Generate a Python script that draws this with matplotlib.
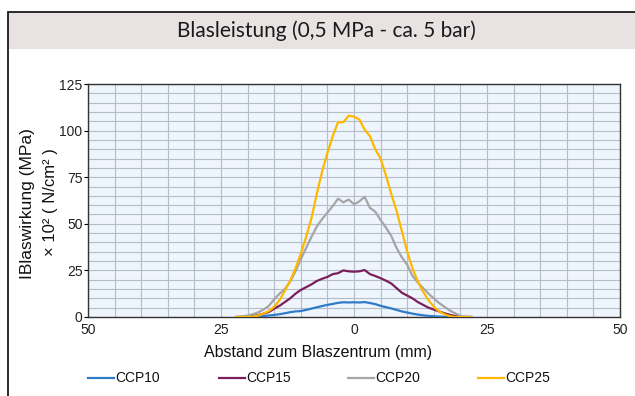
import matplotlib
matplotlib.use("Agg")
import matplotlib.pyplot as plt
from matplotlib.patches import Rectangle
from matplotlib.lines import Line2D
import numpy as np

# ---------------- data ----------------
x_mm = list(range(-22, 23))

ccp10 = [0, 0, 0, 0.1, 0.3, 0.5, 0.8, 1.1, 1.5, 2.0, 2.6, 3.0, 3.2, 3.8, 4.5, 5.2, 5.9, 6.5, 7.0,
         7.6, 7.9, 7.8, 7.9, 7.8, 8.0, 7.5, 6.9, 6.0, 5.3, 4.6, 3.8, 3.0, 2.4, 1.8, 1.3, 0.9, 0.6,
         0.4, 0.2, 0.1, 0, 0, 0, 0, 0]
ccp15 = [0, 0, 0.2, 0.5, 1.0, 1.8, 2.7, 4.5, 6.0, 8.0, 10.0, 12.5, 14.5, 16.0, 17.5, 19.3, 20.5,
         21.5, 23.0, 23.5, 25.0, 24.5, 24.3, 24.5, 25.2, 23.0, 22.0, 20.8, 19.5, 18.0, 15.5, 13.0,
         11.5, 10.0, 8.0, 6.5, 5.0, 4.0, 3.0, 2.0, 1.2, 0.5, 0.2, 0, 0]
ccp20 = [0, 0.3, 0.8, 1.5, 2.5, 4.0, 6.0, 9.5, 12.5, 15.0, 19.0, 24.5, 31.0, 37.0, 43.0, 48.5,
         52.5, 56.0, 59.5, 63.5, 61.5, 63.0, 60.5, 62.0, 64.5, 58.5, 56.5, 52.0, 48.0, 43.5, 37.0,
         32.0, 28.0, 22.0, 18.5, 15.5, 12.5, 10.0, 7.5, 5.5, 3.5, 2.0, 0.6, 0.2, 0]
ccp25 = [0, 0, 0, 0.2, 0.8, 1.8, 3.2, 5.5, 9.0, 14.0, 19.5, 26.0, 34.0, 43.0, 53.0, 66.0, 78.0,
         88.0, 97.0, 104.5, 104.5, 108.0, 107.5, 106.0, 100.5, 97.0, 90.0, 85.0, 76.0, 66.0, 57.0,
         46.0, 35.0, 26.0, 19.0, 13.5, 9.0, 5.5, 3.0, 1.5, 0.5, 0, 0, 0, 0]

series_names = ["CCP10", "CCP15", "CCP20", "CCP25"]
series_values = [ccp10, ccp15, ccp20, ccp25]
series_colors = ["#2f7bc6", "#7a1f5c", "#a5a5a5", "#ffb800"]

x_ticks = [-50, -25, 0, 25, 50]
x_tick_labels = ["50", "25", "0", "25", "50"]
y_ticks = [0, 25, 50, 75, 100, 125]

title = "Blasleistung (0,5 MPa - ca. 5 bar)"
x_label = "Abstand zum Blaszentrum (mm)"
y_label_1 = "IBlaswirkung (MPa)"
y_label_2 = "× 10² ( N/cm² )"

# ---------------- figure ----------------
W, H = 635, 396
fig = plt.figure(figsize=(W / 100, H / 100), dpi=100)
fig.patch.set_facecolor("white")

def fx(px):
    return px / W

def fy(py):
    return 1 - py / H

# title band + outer frame
fig.add_artist(Rectangle((fx(8), fy(49)), 1.2, (49 - 12) / H, transform=fig.transFigure,
                         facecolor="#e8e2e2", edgecolor="none", zorder=0))
fig.add_artist(Rectangle((fx(8), -0.2), 1.2, fy(12) + 0.2, transform=fig.transFigure,
                         facecolor="none", edgecolor="#1a1a1a", linewidth=1.3, zorder=1))
fig.text(fx(326), fy(31), title, ha="center", va="center", fontsize=15,
         family="Lato", color="#1a1a1a")

ax = fig.add_axes([fx(88), fy(317), fx(620) - fx(88), (317 - 84) / H])
ax.set_facecolor("#eef5fd")

for name, vals, col in zip(series_names, series_values, series_colors):
    ax.plot(x_mm, vals, color=col, linewidth=1.6, label=name, zorder=3)

ax.set_xlim(-50, 50)
ax.set_ylim(0, 125)
ax.set_xticks(x_ticks)
ax.set_xticklabels(x_tick_labels)
ax.set_yticks(y_ticks)
ax.set_xticks(np.arange(-50, 51, 5), minor=True)
ax.set_yticks(np.arange(0, 126, 5), minor=True)
ax.grid(which="both", color="#b5bdc7", linewidth=0.8, zorder=1)
ax.set_axisbelow(True)
ax.tick_params(axis="x", which="both", length=0, pad=4, labelsize=10)
ax.tick_params(axis="y", which="major", length=3, width=0.8, pad=1, labelsize=10)
ax.tick_params(axis="y", which="minor", length=0)
for lab in ax.get_xticklabels() + ax.get_yticklabels():
    lab.set_family("Liberation Sans")
    lab.set_color("#222222")
for sp in ax.spines.values():
    sp.set_color("#333333")
    sp.set_linewidth(1.0)

fig.text(fx(318), fy(352), x_label, ha="center", va="center", fontsize=11.5,
         family="Liberation Sans", color="#111111")
fig.text(fx(28), fy(204), y_label_1, ha="center", va="center", rotation=90,
         fontsize=12.5, family="Liberation Sans", color="#111111")
fig.text(fx(50), fy(202), y_label_2, ha="center", va="center", rotation=90,
         fontsize=12, family="Liberation Sans", color="#111111")

# legend (manual placement)
leg_line_x = [88, 219, 348, 478]
leg_y = 378
for lx, name, col in zip(leg_line_x, series_names, series_colors):
    fig.add_artist(Line2D([fx(lx), fx(lx + 26)], [fy(leg_y), fy(leg_y)],
                          transform=fig.transFigure, color=col, linewidth=1.6))
    fig.text(fx(lx + 27), fy(leg_y), name, ha="left", va="center", fontsize=10,
             family="Liberation Sans", color="#111111")

fig.savefig("out.png", dpi=100)
